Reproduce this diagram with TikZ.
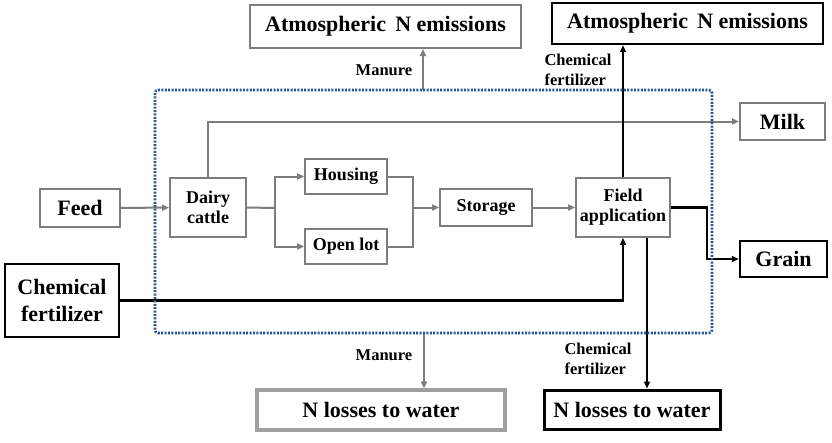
\documentclass[tikz,border=0pt]{standalone}
\usepackage{fontspec}
\setmainfont{Liberation Serif}
\usepackage{tikz}
\usetikzlibrary{arrows.meta}
\usetikzlibrary{positioning}
\definecolor{linegray}{RGB}{125,125,125}
\definecolor{lossgray}{RGB}{160,160,160}
\definecolor{dotblue}{RGB}{40,85,150}
\begin{document}
\begin{tikzpicture}[x=1pt,y=-1pt,
  big/.style={font=\fontsize{22}{27}\selectfont\bfseries,align=center,inner sep=0pt,fill=white},
  small/.style={font=\fontsize{18}{20}\selectfont\bfseries,align=center,inner sep=0pt,fill=white,draw=linegray,line width=1.8pt},
  flowlabel/.style={font=\fontsize{16.5}{20}\selectfont\bfseries,align=left,inner sep=0pt},
  graybox/.style={big,draw=linegray,line width=2pt},
  blackbox/.style={big,draw=black,line width=2.4pt},
  gflow/.style={draw=linegray,line width=2pt,-{Triangle[length=7pt,width=6pt]}},
  gline/.style={draw=linegray,line width=2pt},
  bflow/.style={draw=black,line width=2.3pt,-{Triangle[length=7pt,width=6pt]}},
  farm/.style={draw=dotblue,line width=2.6pt,dash pattern=on 2pt off 1.4pt,rounded corners=3pt}]
\useasboundingbox (0,0) rectangle (832,442);
\node [graybox,minimum width=271pt,minimum height=43pt] (atmL) at (385.5,26.5) {Atmospheric\, N emissions};
\node [blackbox,minimum width=271pt,minimum height=41pt] (atmR) at (687.5,23.5) {Atmospheric\, N emissions};
\node [graybox,minimum width=85pt,minimum height=37pt] (milk) at (782.5,121.5) {Milk};
\node [graybox,minimum width=80pt,minimum height=38pt] (feed) at (80,208) {Feed};
\node [small,minimum width=76pt,minimum height=59pt] (dairy) at (208,207.5) {Dairy\\cattle};
\node [small,minimum width=82pt,minimum height=35pt] (housing) at (346,176.5) {Housing};
\node [small,minimum width=82pt,minimum height=35pt] (openlot) at (346,246.5) {Open lot};
\node [small,minimum width=92pt,minimum height=37pt] (storage) at (486,207.5) {Storage};
\node [small,minimum width=94pt,minimum height=59pt] (field) at (623,207.5) {Field\\application};
\node [blackbox,minimum width=87pt,minimum height=36pt] (grain) at (783.5,259) {Grain};
\node [blackbox,minimum width=114pt,minimum height=73pt] (chem) at (62,300.5) {Chemical\\fertilizer};
\node [big,draw=lossgray,line width=3.2pt,minimum width=248pt,minimum height=40pt] (lossL) at (381,410) {N losses to water};
\node [blackbox,line width=3pt,minimum width=176pt,minimum height=39pt] (lossR) at (632,409.5) {N losses to water};
\coordinate (split) at (275,208);
\coordinate (merge) at (413,207.5);
\coordinate (farmtop) at (423,90);
\coordinate (farmbot) at (424,333);
\node [flowlabel] (manureup) at (384,70) {Manure};
\node [flowlabel] (chemup) at (578,70) {Chemical\\fertilizer};
\node [flowlabel] (manuredown) at (384,355) {Manure};
\node [flowlabel] (chemdown) at (598,359) {Chemical\\fertilizer};
\draw [gflow] (feed) -- (dairy);
\draw [gflow] (dairy.north) |- (milk.west);
\draw [gline] (dairy.east) -- (split);
\draw [gflow] (split) |- (housing.west);
\draw [gflow] (split) |- (openlot.west);
\draw [gline] (housing.east) -| (merge);
\draw [gline] (openlot.east) -| (merge);
\draw [gflow] (merge) -- (storage.west);
\draw [gflow] (storage) -- (field);
\draw [gflow] (farmtop) -- (farmtop |- atmL.south);
\draw [gflow] (farmbot) -- (farmbot |- lossL.north);
\draw [bflow] (field.north) -- (field.north |- atmR.south);
\draw [bflow] (field.east) -- ++(36,0) |- (grain.west);
\draw [bflow] (chem.east) -| (field.south);
\draw [bflow] ([xshift=24pt]field.south) -- ([xshift=24pt]field.south |- lossR.north);
\draw [farm] (155,90) rectangle (712,333);
\end{tikzpicture}
\end{document}
